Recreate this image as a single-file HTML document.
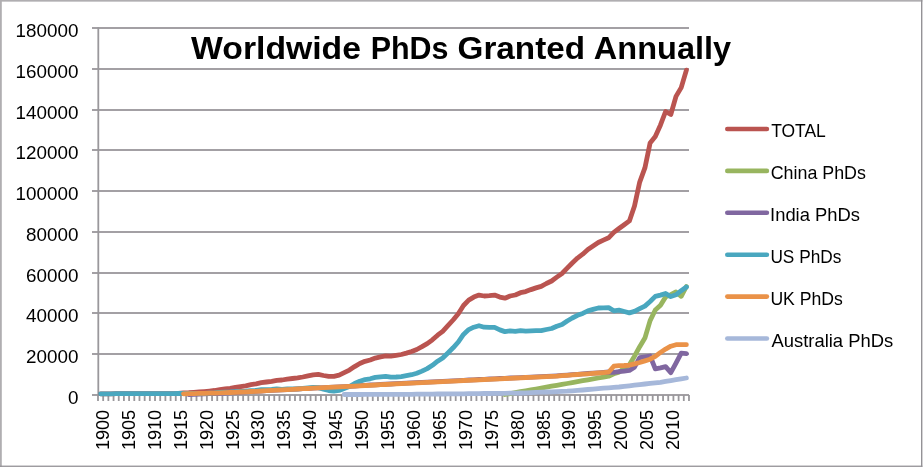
<!DOCTYPE html>
<html><head><meta charset="utf-8"><title>Worldwide PhDs Granted Annually</title>
<style>
html,body{margin:0;padding:0;background:#fff;}
body{width:923px;height:468px;overflow:hidden;}
svg{display:block;}
text{font-family:"Liberation Sans",sans-serif;fill:#000;}
</style></head><body>
<svg width="923" height="468" viewBox="0 0 923 468">
<rect x="0" y="0" width="923" height="468" fill="#fff"/>
<rect x="0" y="0" width="922.4" height="1.65" fill="#b0aeb1"/><rect x="0" y="0" width="1.8" height="466.9" fill="#b0aeb1"/><rect x="921" y="0" width="1.4" height="466.9" fill="#949296"/><rect x="0" y="465.6" width="922.4" height="1.3" fill="#949296"/>
<g stroke="#a3a0a4" stroke-width="2"><line x1="92" y1="395" x2="689" y2="395"/><line x1="92" y1="354" x2="689" y2="354"/><line x1="92" y1="313" x2="689" y2="313"/><line x1="92" y1="273" x2="689" y2="273"/><line x1="92" y1="232" x2="689" y2="232"/><line x1="92" y1="191" x2="689" y2="191"/><line x1="92" y1="150" x2="689" y2="150"/><line x1="92" y1="110" x2="689" y2="110"/><line x1="92" y1="69" x2="689" y2="69"/><line x1="92" y1="28" x2="689" y2="28"/></g>
<line x1="98.3" y1="27.25" x2="98.3" y2="395.75" stroke="#9a989c" stroke-width="1.8"/>
<path d="M98.00 395V400.9M103.18 395V400.9M108.37 395V400.9M113.55 395V400.9M118.74 395V400.9M123.92 395V400.9M129.10 395V400.9M134.29 395V400.9M139.47 395V400.9M144.66 395V400.9M149.84 395V400.9M155.02 395V400.9M160.21 395V400.9M165.39 395V400.9M170.58 395V400.9M175.76 395V400.9M180.94 395V400.9M186.13 395V400.9M191.31 395V400.9M196.50 395V400.9M201.68 395V400.9M206.86 395V400.9M212.05 395V400.9M217.23 395V400.9M222.42 395V400.9M227.60 395V400.9M232.78 395V400.9M237.97 395V400.9M243.15 395V400.9M248.34 395V400.9M253.52 395V400.9M258.70 395V400.9M263.89 395V400.9M269.07 395V400.9M274.26 395V400.9M279.44 395V400.9M284.62 395V400.9M289.81 395V400.9M294.99 395V400.9M300.18 395V400.9M305.36 395V400.9M310.54 395V400.9M315.73 395V400.9M320.91 395V400.9M326.10 395V400.9M331.28 395V400.9M336.46 395V400.9M341.65 395V400.9M346.83 395V400.9M352.02 395V400.9M357.20 395V400.9M362.38 395V400.9M367.57 395V400.9M372.75 395V400.9M377.94 395V400.9M383.12 395V400.9M388.30 395V400.9M393.49 395V400.9M398.67 395V400.9M403.86 395V400.9M409.04 395V400.9M414.22 395V400.9M419.41 395V400.9M424.59 395V400.9M429.78 395V400.9M434.96 395V400.9M440.14 395V400.9M445.33 395V400.9M450.51 395V400.9M455.70 395V400.9M460.88 395V400.9M466.06 395V400.9M471.25 395V400.9M476.43 395V400.9M481.62 395V400.9M486.80 395V400.9M491.98 395V400.9M497.17 395V400.9M502.35 395V400.9M507.54 395V400.9M512.72 395V400.9M517.90 395V400.9M523.09 395V400.9M528.27 395V400.9M533.46 395V400.9M538.64 395V400.9M543.82 395V400.9M549.01 395V400.9M554.19 395V400.9M559.38 395V400.9M564.56 395V400.9M569.74 395V400.9M574.93 395V400.9M580.11 395V400.9M585.30 395V400.9M590.48 395V400.9M595.66 395V400.9M600.85 395V400.9M606.03 395V400.9M611.22 395V400.9M616.40 395V400.9M621.58 395V400.9M626.77 395V400.9M631.95 395V400.9M637.14 395V400.9M642.32 395V400.9M647.50 395V400.9M652.69 395V400.9M657.87 395V400.9M663.06 395V400.9M668.24 395V400.9M673.42 395V400.9M678.61 395V400.9M683.79 395V400.9M688.98 395V400.9" stroke="#9a989c" stroke-width="1.8" fill="none"/>
<text x="67.90" y="403.80" font-size="18.4" textLength="10.47" lengthAdjust="spacingAndGlyphs">0</text>
<text x="26.00" y="363.05" font-size="18.4" textLength="52.38" lengthAdjust="spacingAndGlyphs">20000</text>
<text x="26.00" y="322.29" font-size="18.4" textLength="52.38" lengthAdjust="spacingAndGlyphs">40000</text>
<text x="26.00" y="281.54" font-size="18.4" textLength="52.38" lengthAdjust="spacingAndGlyphs">60000</text>
<text x="26.00" y="240.78" font-size="18.4" textLength="52.38" lengthAdjust="spacingAndGlyphs">80000</text>
<text x="15.52" y="200.03" font-size="18.4" textLength="62.85" lengthAdjust="spacingAndGlyphs">100000</text>
<text x="15.52" y="159.27" font-size="18.4" textLength="62.85" lengthAdjust="spacingAndGlyphs">120000</text>
<text x="15.52" y="118.51" font-size="18.4" textLength="62.85" lengthAdjust="spacingAndGlyphs">140000</text>
<text x="15.52" y="77.76" font-size="18.4" textLength="62.85" lengthAdjust="spacingAndGlyphs">160000</text>
<text x="15.52" y="37.00" font-size="18.4" textLength="62.85" lengthAdjust="spacingAndGlyphs">180000</text>
<text transform="translate(108.90 450.1) rotate(-90)" font-size="18.3" textLength="40.28" lengthAdjust="spacingAndGlyphs">1900</text>
<text transform="translate(134.82 450.1) rotate(-90)" font-size="18.3" textLength="40.28" lengthAdjust="spacingAndGlyphs">1905</text>
<text transform="translate(160.74 450.1) rotate(-90)" font-size="18.3" textLength="40.28" lengthAdjust="spacingAndGlyphs">1910</text>
<text transform="translate(186.66 450.1) rotate(-90)" font-size="18.3" textLength="40.28" lengthAdjust="spacingAndGlyphs">1915</text>
<text transform="translate(212.58 450.1) rotate(-90)" font-size="18.3" textLength="40.28" lengthAdjust="spacingAndGlyphs">1920</text>
<text transform="translate(238.50 450.1) rotate(-90)" font-size="18.3" textLength="40.28" lengthAdjust="spacingAndGlyphs">1925</text>
<text transform="translate(264.42 450.1) rotate(-90)" font-size="18.3" textLength="40.28" lengthAdjust="spacingAndGlyphs">1930</text>
<text transform="translate(290.34 450.1) rotate(-90)" font-size="18.3" textLength="40.28" lengthAdjust="spacingAndGlyphs">1935</text>
<text transform="translate(316.26 450.1) rotate(-90)" font-size="18.3" textLength="40.28" lengthAdjust="spacingAndGlyphs">1940</text>
<text transform="translate(342.18 450.1) rotate(-90)" font-size="18.3" textLength="40.28" lengthAdjust="spacingAndGlyphs">1945</text>
<text transform="translate(368.10 450.1) rotate(-90)" font-size="18.3" textLength="40.28" lengthAdjust="spacingAndGlyphs">1950</text>
<text transform="translate(394.02 450.1) rotate(-90)" font-size="18.3" textLength="40.28" lengthAdjust="spacingAndGlyphs">1955</text>
<text transform="translate(419.94 450.1) rotate(-90)" font-size="18.3" textLength="40.28" lengthAdjust="spacingAndGlyphs">1960</text>
<text transform="translate(445.86 450.1) rotate(-90)" font-size="18.3" textLength="40.28" lengthAdjust="spacingAndGlyphs">1965</text>
<text transform="translate(471.78 450.1) rotate(-90)" font-size="18.3" textLength="40.28" lengthAdjust="spacingAndGlyphs">1970</text>
<text transform="translate(497.70 450.1) rotate(-90)" font-size="18.3" textLength="40.28" lengthAdjust="spacingAndGlyphs">1975</text>
<text transform="translate(523.62 450.1) rotate(-90)" font-size="18.3" textLength="40.28" lengthAdjust="spacingAndGlyphs">1980</text>
<text transform="translate(549.54 450.1) rotate(-90)" font-size="18.3" textLength="40.28" lengthAdjust="spacingAndGlyphs">1985</text>
<text transform="translate(575.46 450.1) rotate(-90)" font-size="18.3" textLength="40.28" lengthAdjust="spacingAndGlyphs">1990</text>
<text transform="translate(601.38 450.1) rotate(-90)" font-size="18.3" textLength="40.28" lengthAdjust="spacingAndGlyphs">1995</text>
<text transform="translate(627.30 450.1) rotate(-90)" font-size="18.3" textLength="40.28" lengthAdjust="spacingAndGlyphs">2000</text>
<text transform="translate(653.22 450.1) rotate(-90)" font-size="18.3" textLength="40.28" lengthAdjust="spacingAndGlyphs">2005</text>
<text transform="translate(679.14 450.1) rotate(-90)" font-size="18.3" textLength="40.28" lengthAdjust="spacingAndGlyphs">2010</text>
<path d="M100.6 393.8 L105.8 393.8 L111.0 393.8 L116.1 393.7 L121.3 393.7 L126.5 393.7 L131.7 393.7 L136.9 393.7 L142.1 393.7 L147.2 393.6 L152.4 393.6 L157.6 393.6 L162.8 393.6 L168.0 393.6 L173.2 393.6 L178.4 393.5 L183.5 392.8 L188.7 392.7 L193.9 392.4 L199.1 392.0 L204.3 391.6 L209.5 391.1 L214.6 390.5 L219.8 389.6 L225.0 389.0 L230.2 388.3 L235.4 387.3 L240.6 386.6 L245.7 385.8 L250.9 384.7 L256.1 383.8 L261.3 382.7 L266.5 382.0 L271.7 381.3 L276.8 380.3 L282.0 380.0 L287.2 379.1 L292.4 378.5 L297.6 377.9 L302.8 377.0 L308.0 375.8 L313.1 374.8 L318.3 374.4 L323.5 375.5 L328.7 376.3 L333.9 376.4 L339.1 375.2 L344.2 372.7 L349.4 370.1 L354.6 366.6 L359.8 363.5 L365.0 361.3 L370.2 360.0 L375.3 358.1 L380.5 356.9 L385.7 355.9 L390.9 356.2 L396.1 355.4 L401.3 354.5 L406.4 353.1 L411.6 351.5 L416.8 349.5 L422.0 346.7 L427.2 343.7 L432.4 339.8 L437.6 335.2 L442.7 331.3 L447.9 325.7 L453.1 320.0 L458.3 313.7 L463.5 305.5 L468.7 300.1 L473.8 297.1 L479.0 295.1 L484.2 296.0 L489.4 295.7 L494.6 295.1 L499.8 297.1 L504.9 298.2 L510.1 296.0 L515.3 295.0 L520.5 292.7 L525.7 291.6 L530.9 289.6 L536.0 287.9 L541.2 286.4 L546.4 283.5 L551.6 281.0 L556.8 277.1 L562.0 273.5 L567.2 268.1 L572.3 263.0 L577.5 258.1 L582.7 254.2 L587.9 249.5 L593.1 246.0 L598.3 242.5 L603.4 240.1 L608.6 237.8 L613.8 232.4 L619.0 228.5 L624.2 224.7 L629.4 220.9 L634.5 205.9 L639.7 182.1 L644.9 167.9 L650.1 142.9 L655.3 136.5 L660.5 124.9 L665.6 111.5 L670.8 114.5 L676.0 96.4 L681.2 87.6 L686.4 70.1" fill="none" stroke="#BA5450" stroke-width="4.8" stroke-linecap="round" stroke-linejoin="round"/>
<path d="M504.9 394.5 L510.1 393.6 L515.3 392.7 L520.5 391.7 L525.7 390.8 L530.9 389.9 L536.0 389.0 L541.2 388.1 L546.4 387.2 L551.6 386.2 L556.8 385.3 L562.0 384.4 L567.2 383.5 L572.3 382.6 L577.5 381.7 L582.7 380.7 L587.9 379.8 L593.1 378.9 L598.3 378.0 L603.4 377.1 L608.6 376.2 L613.8 373.8 L619.0 372.1 L624.2 368.3 L629.4 364.7 L634.5 356.2 L639.7 346.7 L644.9 338.1 L650.1 320.6 L655.3 310.0 L660.5 305.3 L665.6 296.9 L670.8 294.7 L676.0 292.0 L681.2 296.3 L686.4 286.5" fill="none" stroke="#98B55F" stroke-width="4.8" stroke-linecap="round" stroke-linejoin="round"/>
<path d="M188.7 394.5 L193.9 394.3 L199.1 394.1 L204.3 393.9 L209.5 393.7 L214.6 393.5 L219.8 393.3 L225.0 393.1 L230.2 392.8 L235.4 392.5 L240.6 392.2 L245.7 391.9 L250.9 391.5 L256.1 391.3 L261.3 391.0 L266.5 390.7 L271.7 390.4 L276.8 390.1 L282.0 389.8 L287.2 389.6 L292.4 389.3 L297.6 389.0 L302.8 388.7 L308.0 388.5 L313.1 388.2 L318.3 387.9 L323.5 387.7 L328.7 387.4 L333.9 387.1 L339.1 386.9 L344.2 386.6 L349.4 386.3 L354.6 386.1 L359.8 385.6 L365.0 385.3 L370.2 385.0 L375.3 384.8 L380.5 384.5 L385.7 384.2 L390.9 384.0 L396.1 383.7 L401.3 383.4 L406.4 383.2 L411.6 382.9 L416.8 382.6 L422.0 382.4 L427.2 382.1 L432.4 381.8 L437.6 381.6 L442.7 381.3 L447.9 381.1 L453.1 380.8 L458.3 380.6 L463.5 380.3 L468.7 380.0 L473.8 379.8 L479.0 379.5 L484.2 379.3 L489.4 379.0 L494.6 378.8 L499.8 378.5 L504.9 378.3 L510.1 378.0 L515.3 377.8 L520.5 377.6 L525.7 377.3 L530.9 377.1 L536.0 376.8 L541.2 376.6 L546.4 376.3 L551.6 376.1 L556.8 375.8 L562.0 375.4 L567.2 375.1 L572.3 374.7 L577.5 374.3 L582.7 373.9 L587.9 373.5 L593.1 373.1 L598.3 372.8 L603.4 372.4 L608.6 372.0 L613.8 372.3 L619.0 371.7 L624.2 371.1 L629.4 370.4 L634.5 367.2 L639.7 357.6 L644.9 356.8 L650.1 356.0 L655.3 368.8 L660.5 367.8 L665.6 366.7 L670.8 372.6 L676.0 363.1 L681.2 353.2 L686.4 353.6" fill="none" stroke="#8067A0" stroke-width="4.8" stroke-linecap="round" stroke-linejoin="round"/>
<path d="M100.6 393.8 L105.8 393.8 L111.0 393.8 L116.1 393.7 L121.3 393.7 L126.5 393.7 L131.7 393.7 L136.9 393.7 L142.1 393.7 L147.2 393.6 L152.4 393.6 L157.6 393.6 L162.8 393.6 L168.0 393.6 L173.2 393.6 L178.4 393.5 L183.5 393.5 L188.7 393.5 L193.9 393.5 L199.1 393.5 L204.3 393.4 L209.5 393.2 L214.6 392.9 L219.8 392.3 L225.0 392.2 L230.2 392.0 L235.4 391.6 L240.6 391.4 L245.7 391.2 L250.9 390.6 L256.1 390.3 L261.3 389.7 L266.5 389.6 L271.7 389.5 L276.8 389.0 L282.0 389.3 L287.2 389.0 L292.4 388.9 L297.6 388.9 L302.8 388.5 L308.0 387.8 L313.1 387.4 L318.3 387.6 L323.5 389.2 L328.7 390.5 L333.9 391.2 L339.1 390.4 L344.2 388.5 L349.4 386.5 L354.6 383.5 L359.8 381.2 L365.0 379.6 L370.2 378.8 L375.3 377.4 L380.5 376.8 L385.7 376.4 L390.9 377.1 L396.1 377.0 L401.3 376.6 L406.4 375.7 L411.6 374.7 L416.8 373.3 L422.0 371.1 L427.2 368.6 L432.4 365.3 L437.6 361.2 L442.7 357.9 L447.9 352.9 L453.1 347.8 L458.3 342.0 L463.5 334.4 L468.7 329.6 L473.8 327.2 L479.0 325.7 L484.2 327.2 L489.4 327.4 L494.6 327.4 L499.8 329.9 L504.9 331.6 L510.1 330.8 L515.3 331.3 L520.5 330.6 L525.7 331.1 L530.9 330.8 L536.0 330.6 L541.2 330.7 L546.4 329.5 L551.6 328.5 L556.8 326.2 L562.0 324.5 L567.2 321.0 L572.3 318.0 L577.5 315.3 L582.7 313.4 L587.9 310.9 L593.1 309.4 L598.3 308.0 L603.4 307.8 L608.6 307.6 L613.8 310.8 L619.0 310.2 L624.2 311.5 L629.4 312.9 L634.5 311.4 L639.7 308.7 L644.9 306.1 L650.1 301.5 L655.3 296.4 L660.5 295.1 L665.6 293.5 L670.8 296.6 L676.0 294.8 L681.2 290.7 L686.4 287.0" fill="none" stroke="#49A7BF" stroke-width="4.8" stroke-linecap="round" stroke-linejoin="round"/>
<path d="M183.5 393.8 L188.7 393.7 L193.9 393.6 L199.1 393.4 L204.3 393.3 L209.5 393.2 L214.6 393.1 L219.8 392.9 L225.0 392.7 L230.2 392.5 L235.4 392.3 L240.6 392.0 L245.7 391.8 L250.9 391.5 L256.1 391.3 L261.3 391.0 L266.5 390.7 L271.7 390.4 L276.8 390.1 L282.0 389.8 L287.2 389.6 L292.4 389.3 L297.6 389.0 L302.8 388.7 L308.0 388.5 L313.1 388.2 L318.3 387.9 L323.5 387.7 L328.7 387.4 L333.9 387.1 L339.1 386.9 L344.2 386.6 L349.4 386.3 L354.6 386.1 L359.8 385.8 L365.0 385.5 L370.2 385.3 L375.3 385.0 L380.5 384.7 L385.7 384.5 L390.9 384.2 L396.1 383.9 L401.3 383.7 L406.4 383.4 L411.6 383.1 L416.8 382.9 L422.0 382.6 L427.2 382.4 L432.4 382.1 L437.6 381.8 L442.7 381.6 L447.9 381.3 L453.1 381.1 L458.3 380.8 L463.5 380.5 L468.7 380.3 L473.8 380.0 L479.0 379.8 L484.2 379.5 L489.4 379.3 L494.6 379.0 L499.8 378.8 L504.9 378.5 L510.1 378.3 L515.3 378.0 L520.5 377.8 L525.7 377.5 L530.9 377.3 L536.0 377.1 L541.2 376.8 L546.4 376.6 L551.6 376.3 L556.8 376.1 L562.0 375.7 L567.2 375.3 L572.3 374.9 L577.5 374.5 L582.7 374.2 L587.9 373.8 L593.1 373.4 L598.3 373.0 L603.4 372.6 L608.6 372.2 L613.8 366.2 L619.0 365.6 L624.2 365.5 L629.4 365.2 L634.5 363.9 L639.7 362.5 L644.9 360.9 L650.1 359.2 L655.3 356.4 L660.5 352.4 L665.6 349.1 L670.8 346.2 L676.0 344.7 L681.2 344.7 L686.4 344.7" fill="none" stroke="#EA9248" stroke-width="4.8" stroke-linecap="round" stroke-linejoin="round"/>
<path d="M344.2 394.5 L349.4 394.5 L354.6 394.5 L359.8 394.5 L365.0 394.4 L370.2 394.4 L375.3 394.4 L380.5 394.4 L385.7 394.4 L390.9 394.4 L396.1 394.3 L401.3 394.3 L406.4 394.3 L411.6 394.3 L416.8 394.2 L422.0 394.2 L427.2 394.1 L432.4 394.1 L437.6 394.0 L442.7 394.0 L447.9 393.9 L453.1 393.9 L458.3 393.8 L463.5 393.8 L468.7 393.7 L473.8 393.7 L479.0 393.6 L484.2 393.5 L489.4 393.5 L494.6 393.4 L499.8 393.4 L504.9 393.3 L510.1 393.2 L515.3 393.2 L520.5 393.0 L525.7 392.8 L530.9 392.6 L536.0 392.4 L541.2 392.2 L546.4 392.0 L551.6 391.8 L556.8 391.6 L562.0 391.4 L567.2 391.2 L572.3 390.8 L577.5 390.4 L582.7 390.0 L587.9 389.5 L593.1 389.1 L598.3 388.7 L603.4 388.2 L608.6 387.8 L613.8 387.4 L619.0 387.0 L624.2 386.4 L629.4 385.8 L634.5 385.2 L639.7 384.6 L644.9 384.0 L650.1 383.4 L655.3 382.9 L660.5 382.3 L665.6 381.4 L670.8 380.6 L676.0 379.7 L681.2 378.8 L686.4 378.0" fill="none" stroke="#A6B8DA" stroke-width="4.8" stroke-linecap="round" stroke-linejoin="round"/>
<text x="191.10" y="58.6" font-size="31" font-weight="bold" textLength="169.84" lengthAdjust="spacingAndGlyphs">Worldwide</text>
<text x="370.70" y="58.6" font-size="31" font-weight="bold" textLength="77.84" lengthAdjust="spacingAndGlyphs">PhDs</text>
<text x="457.56" y="58.6" font-size="31" font-weight="bold" textLength="127.47" lengthAdjust="spacingAndGlyphs">Granted</text>
<text x="593.89" y="58.6" font-size="31" font-weight="bold" textLength="137.20" lengthAdjust="spacingAndGlyphs">Annually</text>
<line x1="727.3" y1="129.0" x2="766.9" y2="129.0" stroke="#BA5450" stroke-width="4.6" stroke-linecap="round"/>
<text x="771.13" y="137.4" font-size="18.4" textLength="54.71" lengthAdjust="spacingAndGlyphs">TOTAL</text>
<line x1="727.3" y1="170.9" x2="766.9" y2="170.9" stroke="#98B55F" stroke-width="4.6" stroke-linecap="round"/>
<text x="770.66" y="179.3" font-size="18.4" textLength="95.30" lengthAdjust="spacingAndGlyphs">China PhDs</text>
<line x1="727.3" y1="212.8" x2="766.9" y2="212.8" stroke="#8067A0" stroke-width="4.6" stroke-linecap="round"/>
<text x="770.06" y="221.2" font-size="18.4" textLength="90.01" lengthAdjust="spacingAndGlyphs">India PhDs</text>
<line x1="727.3" y1="254.7" x2="766.9" y2="254.7" stroke="#49A7BF" stroke-width="4.6" stroke-linecap="round"/>
<text x="770.42" y="263.1" font-size="18.4" textLength="70.92" lengthAdjust="spacingAndGlyphs">US PhDs</text>
<line x1="727.3" y1="296.6" x2="766.9" y2="296.6" stroke="#EA9248" stroke-width="4.6" stroke-linecap="round"/>
<text x="770.40" y="305.0" font-size="18.4" textLength="72.45" lengthAdjust="spacingAndGlyphs">UK PhDs</text>
<line x1="727.3" y1="338.5" x2="766.9" y2="338.5" stroke="#A6B8DA" stroke-width="4.6" stroke-linecap="round"/>
<text x="771.50" y="346.9" font-size="18.4" textLength="121.67" lengthAdjust="spacingAndGlyphs">Australia PhDs</text>
</svg>
</body></html>
